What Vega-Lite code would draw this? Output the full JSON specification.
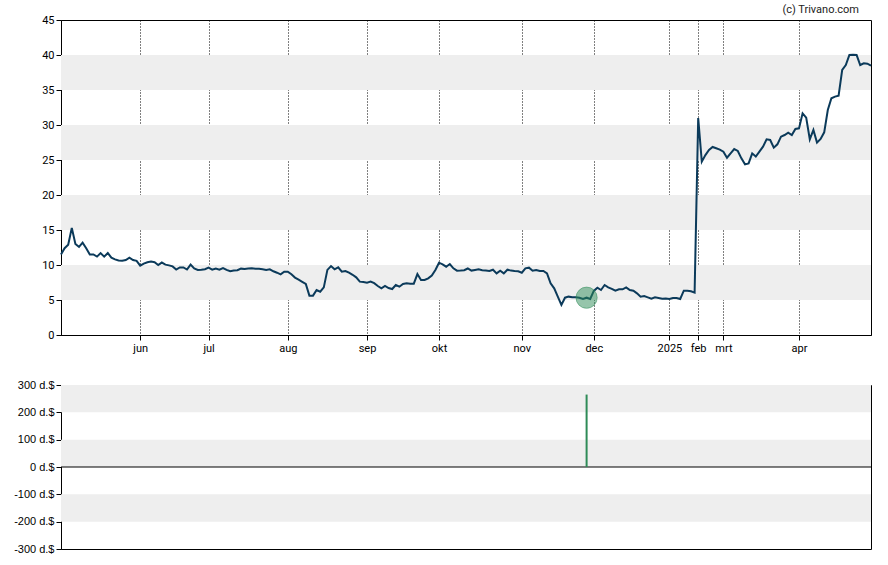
{
  "$schema": "https://vega.github.io/schema/vega-lite/v6.json",
  "padding": {"left": 13, "top": 3, "right": 18, "bottom": 5},
  "spacing": 24,
  "resolve": {"scale": {"x": "shared"}},
  "config": {
    "view": {"stroke": "black", "strokeWidth": 1},
    "axis": {"domainColor": "black", "tickColor": "black", "labelColor": "black", "tickSize": 5, "labelPadding": 2, "labelFont": "Roboto", "labelFontSize": 11, "grid": false, "labelOverlap": false},
    "axisY": {"labelOverlap": false},
    "font": "Roboto"
  },
  "datasets": {
    "bandsTop": [{"lo": 5, "hi": 10}, {"lo": 15, "hi": 20}, {"lo": 25, "hi": 30}, {"lo": 35, "hi": 40}],
    "bandsBot": [{"lo": 200, "hi": 300}, {"lo": 0, "hi": 100}, {"lo": -200, "hi": -100}],
    "zero": [{"level": 0}],
    "trades": [{"date": "2024-11-27", "amount": 265}],
    "price": [
{"date":"2024-05-01","price":11.5},{"date":"2024-05-02","price":12.4},{"date":"2024-05-03","price":12.9},{"date":"2024-05-06","price":15.3},{"date":"2024-05-07","price":13.0},{"date":"2024-05-08","price":12.6},{"date":"2024-05-09","price":13.2},{"date":"2024-05-10","price":12.4},{"date":"2024-05-13","price":11.5},{"date":"2024-05-14","price":11.5},{"date":"2024-05-15","price":11.2},{"date":"2024-05-16","price":11.7},{"date":"2024-05-17","price":11.2},{"date":"2024-05-20","price":11.7},{"date":"2024-05-21","price":11.05},{"date":"2024-05-22","price":10.8},{"date":"2024-05-23","price":10.65},{"date":"2024-05-24","price":10.6},{"date":"2024-05-28","price":10.7},{"date":"2024-05-29","price":11.05},{"date":"2024-05-30","price":10.7},{"date":"2024-05-31","price":10.6},
{"date":"2024-06-03","price":9.9},{"date":"2024-06-04","price":10.2},{"date":"2024-06-05","price":10.4},{"date":"2024-06-06","price":10.5},{"date":"2024-06-07","price":10.4},{"date":"2024-06-10","price":10.0},{"date":"2024-06-11","price":10.35},{"date":"2024-06-12","price":10.05},{"date":"2024-06-13","price":9.95},{"date":"2024-06-14","price":9.8},{"date":"2024-06-17","price":9.35},{"date":"2024-06-18","price":9.65},{"date":"2024-06-20","price":9.65},{"date":"2024-06-21","price":9.35},{"date":"2024-06-24","price":10.05},{"date":"2024-06-25","price":9.5},{"date":"2024-06-26","price":9.3},{"date":"2024-06-27","price":9.33},{"date":"2024-06-28","price":9.4},
{"date":"2024-07-01","price":9.62},{"date":"2024-07-02","price":9.33},{"date":"2024-07-03","price":9.5},{"date":"2024-07-05","price":9.33},{"date":"2024-07-08","price":9.57},{"date":"2024-07-09","price":9.3},{"date":"2024-07-10","price":9.1},{"date":"2024-07-11","price":9.2},{"date":"2024-07-12","price":9.25},{"date":"2024-07-15","price":9.48},{"date":"2024-07-16","price":9.43},{"date":"2024-07-17","price":9.5},{"date":"2024-07-18","price":9.52},{"date":"2024-07-19","price":9.48},{"date":"2024-07-22","price":9.45},{"date":"2024-07-23","price":9.4},{"date":"2024-07-24","price":9.3},{"date":"2024-07-25","price":9.38},{"date":"2024-07-26","price":9.1},{"date":"2024-07-29","price":8.9},{"date":"2024-07-30","price":8.67},{"date":"2024-07-31","price":9.05},
{"date":"2024-08-01","price":9.05},{"date":"2024-08-02","price":8.67},{"date":"2024-08-05","price":8.2},{"date":"2024-08-06","price":7.9},{"date":"2024-08-07","price":7.6},{"date":"2024-08-08","price":7.3},{"date":"2024-08-09","price":5.62},{"date":"2024-08-12","price":5.62},{"date":"2024-08-13","price":6.43},{"date":"2024-08-14","price":6.19},{"date":"2024-08-15","price":6.8},{"date":"2024-08-16","price":9.3},{"date":"2024-08-19","price":9.85},{"date":"2024-08-20","price":9.38},{"date":"2024-08-21","price":9.67},{"date":"2024-08-22","price":9.05},{"date":"2024-08-23","price":9.14},{"date":"2024-08-26","price":8.9},{"date":"2024-08-27","price":8.6},{"date":"2024-08-28","price":8.24},{"date":"2024-08-29","price":7.62},{"date":"2024-08-30","price":7.57},
{"date":"2024-09-03","price":7.48},{"date":"2024-09-04","price":7.62},{"date":"2024-09-05","price":7.4},{"date":"2024-09-06","price":7.0},{"date":"2024-09-09","price":6.67},{"date":"2024-09-10","price":7.0},{"date":"2024-09-11","price":6.71},{"date":"2024-09-12","price":6.57},{"date":"2024-09-13","price":7.14},{"date":"2024-09-16","price":6.9},{"date":"2024-09-17","price":7.3},{"date":"2024-09-18","price":7.38},{"date":"2024-09-19","price":7.33},{"date":"2024-09-20","price":7.33},{"date":"2024-09-23","price":8.71},{"date":"2024-09-24","price":7.86},{"date":"2024-09-25","price":7.86},{"date":"2024-09-26","price":8.1},{"date":"2024-09-27","price":8.5},{"date":"2024-09-30","price":9.29},
{"date":"2024-10-01","price":10.33},{"date":"2024-10-02","price":10.1},{"date":"2024-10-03","price":9.76},{"date":"2024-10-04","price":10.14},{"date":"2024-10-07","price":9.52},{"date":"2024-10-08","price":9.19},{"date":"2024-10-09","price":9.2},{"date":"2024-10-10","price":9.25},{"date":"2024-10-11","price":9.5},{"date":"2024-10-14","price":9.2},{"date":"2024-10-15","price":9.3},{"date":"2024-10-16","price":9.38},{"date":"2024-10-17","price":9.25},{"date":"2024-10-18","price":9.2},{"date":"2024-10-21","price":9.14},{"date":"2024-10-22","price":9.33},{"date":"2024-10-23","price":8.81},{"date":"2024-10-24","price":9.19},{"date":"2024-10-25","price":8.81},{"date":"2024-10-28","price":9.33},{"date":"2024-10-29","price":9.2},{"date":"2024-10-30","price":9.14},{"date":"2024-10-31","price":9.1},
{"date":"2024-11-01","price":8.9},{"date":"2024-11-04","price":9.52},{"date":"2024-11-05","price":9.62},{"date":"2024-11-06","price":9.19},{"date":"2024-11-07","price":9.29},{"date":"2024-11-08","price":9.14},{"date":"2024-11-11","price":9.14},{"date":"2024-11-12","price":8.81},{"date":"2024-11-13","price":7.38},{"date":"2024-11-14","price":6.67},{"date":"2024-11-15","price":5.48},{"date":"2024-11-18","price":4.29},{"date":"2024-11-19","price":5.33},{"date":"2024-11-20","price":5.48},{"date":"2024-11-21","price":5.4},{"date":"2024-11-22","price":5.38},{"date":"2024-11-25","price":5.33},{"date":"2024-11-26","price":5.14},{"date":"2024-11-27","price":5.33},{"date":"2024-11-29","price":5.14},
{"date":"2024-12-02","price":6.3},{"date":"2024-12-03","price":6.76},{"date":"2024-12-04","price":6.43},{"date":"2024-12-05","price":7.14},{"date":"2024-12-06","price":6.81},{"date":"2024-12-09","price":6.6},{"date":"2024-12-10","price":6.33},{"date":"2024-12-11","price":6.52},{"date":"2024-12-12","price":6.52},{"date":"2024-12-13","price":6.81},{"date":"2024-12-16","price":6.43},{"date":"2024-12-17","price":6.33},{"date":"2024-12-18","price":5.95},{"date":"2024-12-19","price":5.48},{"date":"2024-12-20","price":5.57},{"date":"2024-12-23","price":5.38},{"date":"2024-12-24","price":5.19},{"date":"2024-12-26","price":5.38},{"date":"2024-12-27","price":5.29},{"date":"2024-12-30","price":5.19},{"date":"2024-12-31","price":5.2},
{"date":"2025-01-02","price":5.14},{"date":"2025-01-06","price":5.29},{"date":"2025-01-10","price":5.29},{"date":"2025-01-14","price":5.14},{"date":"2025-01-17","price":6.33},{"date":"2025-01-22","price":6.33},{"date":"2025-01-27","price":6.24},{"date":"2025-01-30","price":6.05},
{"date":"2025-02-03","price":31.0},{"date":"2025-02-06","price":24.76},{"date":"2025-02-11","price":25.7},{"date":"2025-02-14","price":26.43},{"date":"2025-02-19","price":26.86},{"date":"2025-02-24","price":26.67},{"date":"2025-02-27","price":26.48},
{"date":"2025-03-03","price":26.19},{"date":"2025-03-04","price":25.33},{"date":"2025-03-05","price":25.95},{"date":"2025-03-06","price":26.57},{"date":"2025-03-07","price":26.29},{"date":"2025-03-10","price":25.24},{"date":"2025-03-11","price":24.38},{"date":"2025-03-12","price":24.52},{"date":"2025-03-13","price":25.95},{"date":"2025-03-14","price":25.5},{"date":"2025-03-17","price":26.19},{"date":"2025-03-18","price":26.9},{"date":"2025-03-19","price":27.95},{"date":"2025-03-20","price":27.86},{"date":"2025-03-21","price":26.76},{"date":"2025-03-24","price":27.24},{"date":"2025-03-25","price":28.33},{"date":"2025-03-26","price":28.57},{"date":"2025-03-27","price":28.9},{"date":"2025-03-28","price":28.57},{"date":"2025-03-31","price":29.43},
{"date":"2025-04-01","price":29.52},{"date":"2025-04-02","price":31.67},{"date":"2025-04-03","price":31.05},{"date":"2025-04-04","price":27.95},{"date":"2025-04-07","price":29.3},{"date":"2025-04-08","price":27.48},{"date":"2025-04-09","price":28.0},{"date":"2025-04-10","price":28.95},{"date":"2025-04-11","price":32.14},{"date":"2025-04-14","price":33.81},{"date":"2025-04-15","price":34.05},{"date":"2025-04-16","price":34.19},{"date":"2025-04-17","price":37.86},{"date":"2025-04-21","price":38.57},{"date":"2025-04-22","price":40.0},{"date":"2025-04-23","price":40.05},{"date":"2025-04-24","price":40.0},{"date":"2025-04-25","price":38.57},{"date":"2025-04-28","price":38.81},{"date":"2025-04-29","price":38.76},{"date":"2025-04-30","price":38.48}
    ]
  },
  "vconcat": [
    {
      "width": 810,
      "height": 315,
      "title": {"text": "(c) Trivano.com", "anchor": "end", "fontSize": 11, "fontWeight": "normal", "font": "Roboto", "color": "#222222", "dx": -16, "offset": -1},
      "layer": [
        {
          "data": {"name": "bandsTop"},
          "mark": {"type": "rect", "color": "#eeeeee"},
          "encoding": {
            "y": {"field": "lo", "type": "quantitative", "scale": {"domain": [0, 45], "nice": false, "zero": false}, "axis": {"values": [0, 5, 10, 15, 20, 25, 30, 35, 40, 45], "tickCount": 10, "title": null, "grid": false, "labelOverlap": false}},
            "y2": {"field": "hi"}
          }
        },
        {
          "data": {"name": "price"},
          "mark": {"type": "line", "color": "#0b3a5a", "strokeWidth": 2},
          "encoding": {
            "x": {"field": "date", "type": "ordinal", "scale": {"type": "point", "padding": 0},
              "axis": {"title": null, "values": ["2024-06-03", "2024-07-01", "2024-08-01", "2024-09-03", "2024-10-01", "2024-11-01", "2024-12-02", "2025-01-02", "2025-02-03", "2025-03-03", "2025-04-01"],
                "labelExpr": "slice(datum.value,5,7)=='01' ? slice(datum.value,0,4) : ['jan','feb','mrt','apr','mei','jun','jul','aug','sep','okt','nov','dec'][toNumber(slice(datum.value,5,7))-1]",
                "labelAngle": 0, "grid": true, "gridDash": [1, 2], "gridColor": "black", "gridOpacity": 1, "gridWidth": 1}},
            "y": {"field": "price", "type": "quantitative", "axis": {"values": [0, 5, 10, 15, 20, 25, 30, 35, 40, 45], "tickCount": 10, "title": null, "grid": false, "labelOverlap": false}}
          }
        },
        {
          "data": {"name": "price"},
          "transform": [{"filter": "datum.date == '2024-11-27'"}],
          "mark": {"type": "point", "filled": true, "size": 450, "color": "#2e8b57", "fillOpacity": 0.5, "stroke": "#2e8b57", "strokeOpacity": 0.5, "strokeWidth": 1},
          "encoding": {
            "x": {"field": "date", "type": "ordinal", "title": null},
            "y": {"field": "price", "type": "quantitative", "axis": {"values": [0, 5, 10, 15, 20, 25, 30, 35, 40, 45], "tickCount": 10, "title": null, "grid": false, "labelOverlap": false}}
          }
        }
      ]
    },
    {
      "width": 810,
      "height": 164,
      "layer": [
        {
          "data": {"name": "bandsBot"},
          "mark": {"type": "rect", "color": "#eeeeee"},
          "encoding": {
            "y": {"field": "lo", "type": "quantitative", "scale": {"domain": [-300, 300], "nice": false}, "axis": {"values": [-300, -200, -100, 0, 100, 200, 300], "tickCount": 7, "labelExpr": "datum.value + ' d.$'", "labelFont": "Liberation Sans", "labelFontSize": 11, "title": null, "grid": false, "labelOverlap": false}},
            "y2": {"field": "hi"}
          }
        },
        {
          "data": {"name": "zero"},
          "mark": {"type": "rule", "color": "black", "strokeWidth": 1},
          "encoding": {"y": {"field": "level", "type": "quantitative", "axis": {"values": [-300, -200, -100, 0, 100, 200, 300], "tickCount": 7, "labelExpr": "datum.value + ' d.$'", "labelFont": "Liberation Sans", "labelFontSize": 11, "title": null, "grid": false, "labelOverlap": false}}}
        },
        {
          "data": {"name": "trades"},
          "mark": {"type": "rule", "color": "#2e8b57", "strokeWidth": 2},
          "encoding": {
            "x": {"field": "date", "type": "ordinal", "axis": null},
            "y": {"field": "amount", "type": "quantitative", "axis": {"values": [-300, -200, -100, 0, 100, 200, 300], "tickCount": 7, "labelExpr": "datum.value + ' d.$'", "labelFont": "Liberation Sans", "labelFontSize": 11, "title": null, "grid": false, "labelOverlap": false}},
            "y2": {"datum": 0}
          }
        }
      ]
    }
  ]
}
